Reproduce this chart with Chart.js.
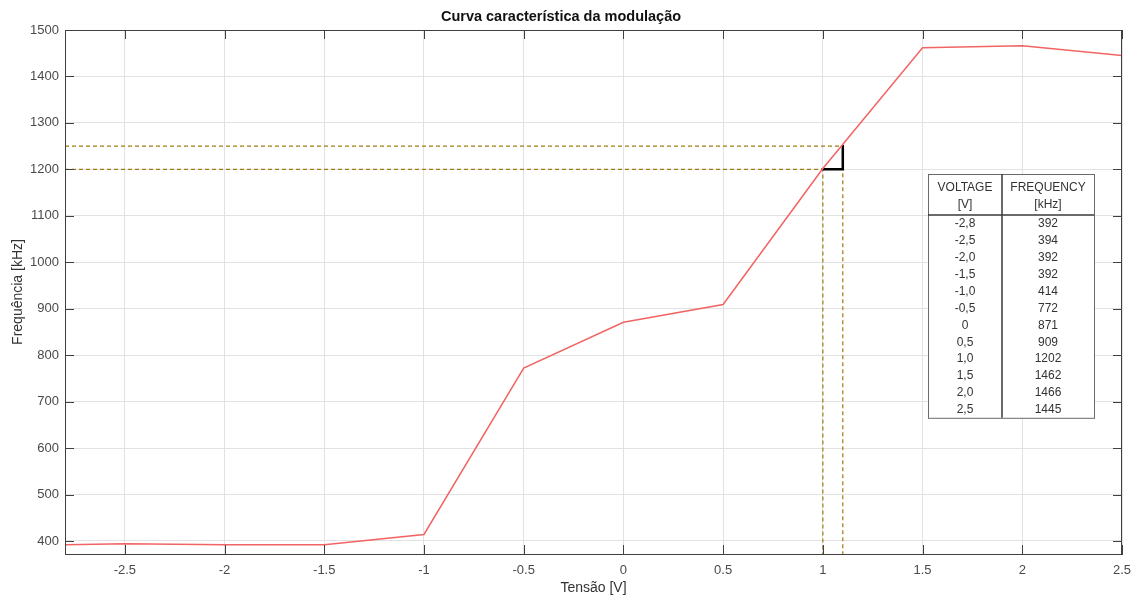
<!DOCTYPE html>
<html>
<head>
<meta charset="utf-8">
<script src="https://cdn.jsdelivr.net/npm/chart.js@4.4.1/dist/chart.umd.min.js"></script>
<style>
  html, body { margin: 0; padding: 0; background: #fff; }
  #wrap { width: 1136px; height: 599px; }
</style>
</head>
<body>
<div id="wrap"><canvas id="chart" width="1136" height="599"></canvas></div>
<script>
// Curva caracteristica da modulacao — frequency vs. voltage
var VOLTAGE = [-2.8, -2.5, -2.0, -1.5, -1.0, -0.5, 0, 0.5, 1.0, 1.5, 2.0, 2.5];
var FREQUENCY = [392, 394, 392, 392, 414, 772, 871, 909, 1202, 1462, 1466, 1445];

var X_TICKS = [-2.5, -2, -1.5, -1, -0.5, 0, 0.5, 1, 1.5, 2, 2.5];
var Y_TICKS = [400, 500, 600, 700, 800, 900, 1000, 1100, 1200, 1300, 1400, 1500];
var X_RANGE = [-2.8, 2.5];
var Y_RANGE = [372, 1500];

// guide lines reading off 1200/1250 kHz at 1.0/1.1 V
var GUIDE_LOW = [[-2.8, 1200], [1.0, 1200], [1.0, 372]];
var GUIDE_HIGH = [[-2.8, 1250], [1.1, 1250], [1.1, 372]];
var STEP = [[1.0, 1200], [1.1, 1200], [1.1, 1250]];

var TABLE_HEAD = [["VOLTAGE", "[V]"], ["FREQUENCY", "[kHz]"]];

var RED = "#f26464";
var GOLD = "#a07c14";
var AXIS = "#404040";
var GRID = "#e2e2e2";
var TEXT = "#4a4a4a";

Chart.defaults.font.family = "Arial, 'Liberation Sans', sans-serif";
Chart.defaults.color = TEXT;

function pts(list) {
  return list.map(function (p) { return { x: p[0], y: p[1] }; });
}

function fmtComma(v) {
  return v === 0 ? "0" : v.toFixed(1).replace(".", ",");
}

// box, inward tick marks and the value table
var matlabBox = {
  id: "matlabBox",
  afterDraw: function (chart) {
    var ctx = chart.ctx;
    var a = chart.chartArea;
    var xs = chart.scales.x, ys = chart.scales.y;
    ctx.save();
    ctx.strokeStyle = AXIS;
    ctx.lineWidth = 1;
    ctx.strokeRect(a.left + 0.5, a.top + 0.5, a.right - a.left - 1, a.bottom - a.top);
    ctx.beginPath();
    X_TICKS.forEach(function (t) {
      var px = Math.round(xs.getPixelForValue(t)) + 0.5;
      ctx.moveTo(px, a.bottom); ctx.lineTo(px, a.bottom - 9);
      ctx.moveTo(px, a.top); ctx.lineTo(px, a.top + 9);
    });
    Y_TICKS.forEach(function (t) {
      var py = Math.round(ys.getPixelForValue(t)) + 0.5;
      ctx.moveTo(a.left, py); ctx.lineTo(a.left + 9, py);
      ctx.moveTo(a.right, py); ctx.lineTo(a.right - 9, py);
    });
    ctx.stroke();

    // table
    var left = a.right - 194, right = a.right - 28, mid = a.right - 120;
    var top = a.top + 144, headBottom = a.top + 185;
    var rowH = 16.9;
    var bottom = headBottom + rowH * VOLTAGE.length;
    ctx.fillStyle = "#fff";
    ctx.fillRect(left, top, right - left, bottom - top);
    ctx.strokeStyle = "#6a6a6a";
    ctx.lineWidth = 1;
    ctx.strokeRect(left + 0.5, top + 0.5, right - left, bottom - top);
    ctx.strokeStyle = "#3a3a3a";
    ctx.lineWidth = 1.5;
    ctx.beginPath();
    ctx.moveTo(mid, top); ctx.lineTo(mid, bottom);
    ctx.moveTo(left, headBottom); ctx.lineTo(right, headBottom);
    ctx.stroke();

    ctx.fillStyle = "#333";
    ctx.font = "12px Arial, 'Liberation Sans', sans-serif";
    ctx.textAlign = "center";
    ctx.textBaseline = "middle";
    var c1 = (left + mid) / 2, c2 = (mid + right) / 2;
    ctx.fillText(TABLE_HEAD[0][0], c1, top + 14);
    ctx.fillText(TABLE_HEAD[0][1], c1, top + 31);
    ctx.fillText(TABLE_HEAD[1][0], c2, top + 14);
    ctx.fillText(TABLE_HEAD[1][1], c2, top + 31);
    VOLTAGE.forEach(function (v, i) {
      var y = headBottom + rowH * i + rowH / 2 + 0.5;
      ctx.fillText(fmtComma(v), c1, y);
      ctx.fillText(String(FREQUENCY[i]), c2, y);
    });
    ctx.restore();
  }
};

new Chart(document.getElementById("chart"), {
  type: "line",
  data: {
    datasets: [
      {
        label: "Frequência",
        data: VOLTAGE.map(function (v, i) { return { x: v, y: FREQUENCY[i] }; }),
        borderColor: RED,
        backgroundColor: RED,
        borderWidth: 1.5,
        pointRadius: 0,
        tension: 0,
        order: 1
      },
      {
        label: "guia 1200",
        data: pts(GUIDE_LOW),
        borderColor: GOLD,
        borderWidth: 1.2,
        borderDash: [4, 3],
        pointRadius: 0,
        order: 3
      },
      {
        label: "guia 1250",
        data: pts(GUIDE_HIGH),
        borderColor: GOLD,
        borderWidth: 1.2,
        borderDash: [4, 3],
        pointRadius: 0,
        order: 3
      },
      {
        label: "degrau",
        data: pts(STEP),
        borderColor: "#000",
        borderWidth: 2.5,
        pointRadius: 0,
        borderCapStyle: "square",
        order: 2
      }
    ]
  },
  options: {
    responsive: false,
    animation: false,
    layout: { padding: { left: 0, right: 14, top: 0, bottom: 0 } },
    plugins: {
      legend: { display: false },
      tooltip: { enabled: false },
      title: {
        display: true,
        text: "Curva característica da modulação",
        color: "#111",
        font: { size: 14.5, weight: "bold" },
        padding: { top: 8, bottom: 4.6 }
      }
    },
    scales: {
      x: {
        type: "linear",
        min: X_RANGE[0],
        max: X_RANGE[1],
        afterBuildTicks: function (s) { s.ticks = X_TICKS.map(function (v) { return { value: v }; }); },
        afterFit: function (s) { s.height = 45; s.paddingRight = 0; s.paddingLeft = 0; },
        grid: { color: GRID, tickLength: 0 },
        border: { color: AXIS },
        ticks: {
          padding: 9,
          maxRotation: 0,
          autoSkip: false,
          font: { size: 13 },
          color: TEXT,
          callback: function (v) { return String(v); }
        },
        title: {
          display: true,
          text: "Tensão [V]",
          font: { size: 14 },
          color: "#333",
          padding: { top: 0, bottom: 2 }
        }
      },
      y: {
        type: "linear",
        min: Y_RANGE[0],
        max: Y_RANGE[1],
        afterBuildTicks: function (s) { s.ticks = Y_TICKS.map(function (v) { return { value: v }; }); },
        afterFit: function (s) { s.width = 65; s.paddingTop = 0; s.paddingBottom = 0; },
        grid: { color: GRID, tickLength: 0 },
        border: { color: AXIS },
        ticks: {
          padding: 6,
          autoSkip: false,
          font: { size: 13 },
          color: TEXT,
          callback: function (v) { return String(v); }
        },
        title: {
          display: true,
          text: "Frequência [kHz]",
          font: { size: 14 },
          color: "#333",
          padding: { top: 10, bottom: 0 }
        }
      }
    }
  },
  plugins: [matlabBox]
});
</script>
</body>
</html>
